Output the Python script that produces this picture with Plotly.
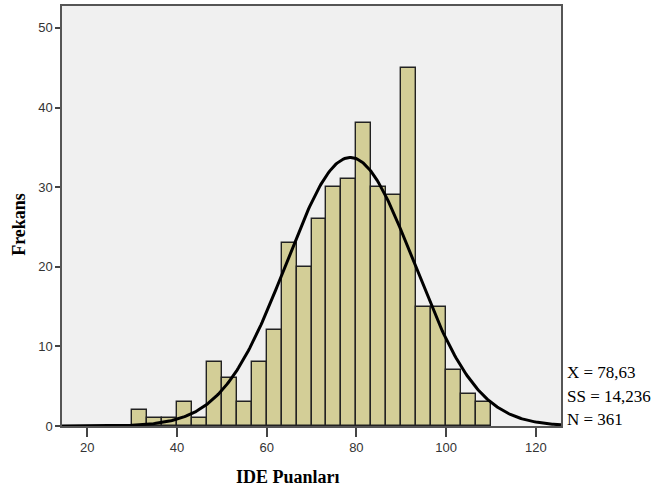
import numpy as np
import plotly.graph_objects as go

# Histogram data (bins of width 10/3 starting at 30)
bin_start = 30.0
bin_width = 10.0 / 3.0
counts = [2, 1, 1, 3, 1, 8, 6, 3, 8, 12, 23, 20, 26, 30, 31, 38, 30, 29, 45, 15, 15, 7, 4, 3]

# Summary statistics shown on chart
mean = 78.63
sd = 14.236
n = 361
stat_labels = ["X = 78,63", "SS = 14,236", "N = 361"]

x_ticks = [20, 40, 60, 80, 100, 120]
y_ticks = [0, 10, 20, 30, 40, 50]
x_range = [14.4, 125.6]
y_range = [0, 52.75]

centers = [bin_start + bin_width * (i + 0.5) for i in range(len(counts))]

fig = go.Figure()
fig.add_trace(go.Bar(
    x=centers, y=counts, width=bin_width,
    marker=dict(color="rgb(211,206,151)", line=dict(color="#222222", width=1.4)),
    hoverinfo="x+y",
))

# Fitted normal curve from mean/sd/n
xs = np.linspace(x_range[0], x_range[1], 400)
ys = n * bin_width / (sd * np.sqrt(2 * np.pi)) * np.exp(-0.5 * ((xs - mean) / sd) ** 2)
fig.add_trace(go.Scatter(x=xs, y=ys, mode="lines", line=dict(color="black", width=3), hoverinfo="skip"))

tick_font = dict(family="Liberation Sans, Arial, sans-serif", size=13, color="#333333")
fig.update_layout(
    width=665, height=490,
    margin=dict(l=62, r=104, t=4, b=64),
    paper_bgcolor="white",
    plot_bgcolor="rgb(240,240,240)",
    showlegend=False,
    bargap=0,
    xaxis=dict(range=x_range, tickvals=x_ticks, ticks="outside", ticklen=9, tickwidth=1.5,
               tickcolor="#444", showgrid=False, zeroline=False, showline=True, mirror=True,
               linecolor="#555", linewidth=1.5, tickfont=tick_font),
    yaxis=dict(range=y_range, tickvals=y_ticks, ticks="outside", ticklen=5, tickwidth=1.5,
               tickcolor="#444", showgrid=False, zeroline=False, showline=True, mirror=True,
               linecolor="#555", linewidth=1.5, tickfont=tick_font),
)

serif_bold = dict(family="Liberation Serif, Times New Roman, serif", size=18, color="black")
fig.add_annotation(text="<b>IDE Puanları</b>", xref="paper", yref="paper", x=0.453, y=0,
                   yshift=-51, showarrow=False, font=serif_bold, xanchor="center", yanchor="middle")
fig.add_annotation(text="<b>Frekans</b>", xref="paper", yref="paper", x=0, y=0.479,
                   xshift=-43, showarrow=False, font=serif_bold, textangle=-90,
                   xanchor="center", yanchor="middle")

stat_y = [6.75, 3.75, 0.875]
for lbl, yy in zip(stat_labels, stat_y):
    fig.add_annotation(text=lbl, xref="paper", yref="y", x=1, y=yy, xshift=4,
                       showarrow=False, xanchor="left", yanchor="middle",
                       font=dict(family="Liberation Serif, Times New Roman, serif", size=17, color="black"))

fig.write_html("out.html", config={"displayModeBar": False},
               post_script="document.body.style.margin='0';")
